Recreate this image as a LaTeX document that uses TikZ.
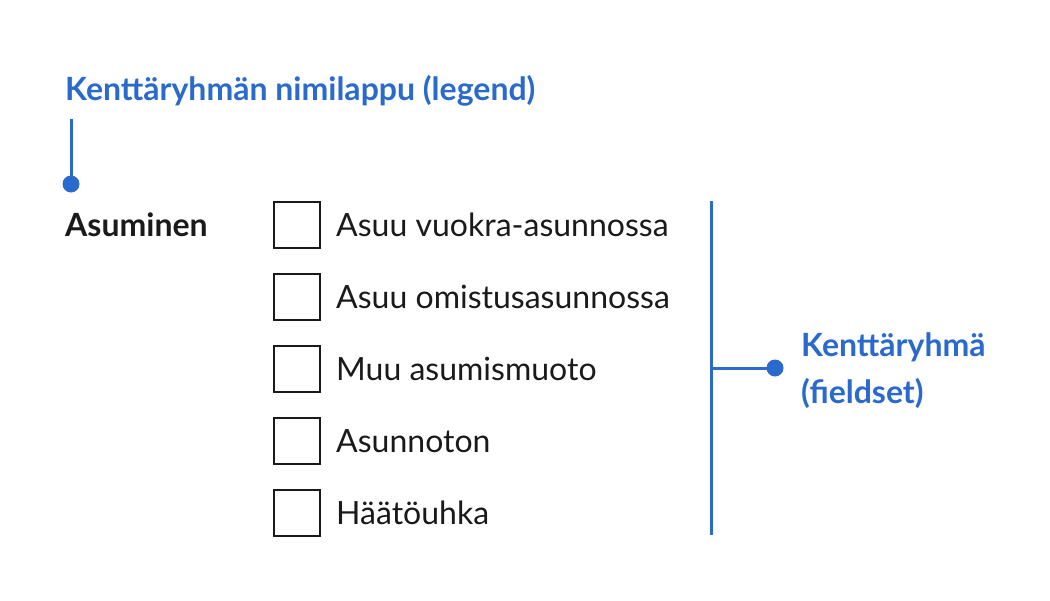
\documentclass[tikz,border=0pt]{standalone}
\usepackage{fontspec}
\setmainfont{Lato}
\definecolor{fsblue}{RGB}{42,106,204}
\definecolor{fsblack}{RGB}{26,26,26}
\begin{document}
\begin{tikzpicture}[x=1pt,y=-1pt,
  lbl/.style={anchor=base west,inner sep=0pt,font=\fontsize{32}{38}\selectfont,text=fsblack},
  blbl/.style={anchor=base west,inner sep=0pt,font=\fontsize{32}{38}\selectfont\bfseries,text=fsblack},
  bluelbl/.style={anchor=base west,inner sep=0pt,font=\fontsize{32}{38}\selectfont\bfseries,text=fsblue},
  cbox/.style={draw=fsblack,line width=2pt,minimum width=46pt,minimum height=46pt,inner sep=0pt,anchor=north west},
  conn/.style={draw=fsblue,line width=3pt},
  dot/.style={circle,fill=fsblue,inner sep=0pt,minimum size=17pt}
]
\useasboundingbox[fill=white] (0,0) rectangle (1050,600);
\node[bluelbl] (legend) at (65,100) {Kenttäryhmän nimilappu (legend)};
\coordinate (ltop) at (71,119);
\node[dot] (ldot) at (71,184) {};
\draw[conn] (ltop) -- (ldot.center);
\node[blbl] (asum) at (65,236) {Asuminen};
\foreach \i/\t in {0/Asuu vuokra-asunnossa,1/Asuu omistusasunnossa,2/Muu asumismuoto,3/Asunnoton,4/Häätöuhka}{
  \node[cbox] (cb\i) at (272.5,{201+72*\i}) {};
  \node[lbl] (t\i) at (336,{236+72*\i}) {\t};
}
\coordinate (vtop) at (711.5,201);
\coordinate (vbot) at (711.5,535);
\coordinate (vmid) at (711.5,368);
\draw[conn] (vtop) -- (vbot);
\node[dot] (fdot) at (775,368) {};
\draw[conn] (vmid) -- (fdot.center);
\node[bluelbl] (fs1) at (801,356) {Kenttäryhmä};
\node[bluelbl] (fs2) at (801,403) {(fieldset)};
\end{tikzpicture}
\end{document}
